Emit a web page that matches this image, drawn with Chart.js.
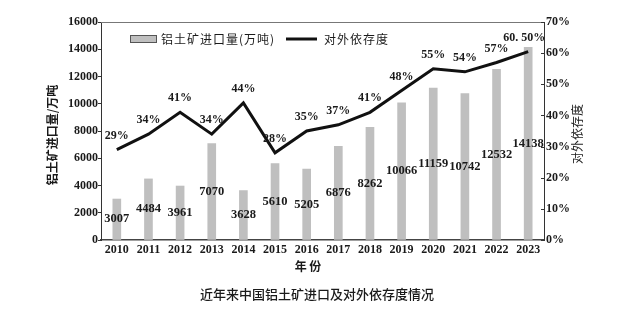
<!DOCTYPE html>
<html><head><meta charset="utf-8">
<script src="https://cdn.jsdelivr.net/npm/chart.js@4/dist/chart.umd.min.js"></script>
<style>html,body{margin:0;padding:0;background:#fff}#wrap{width:620px;height:321px}</style>
</head><body><div id="wrap"><canvas id="c" width="620" height="321"></canvas></div>
<script>
const years = ['2010','2011','2012','2013','2014','2015','2016','2017','2018','2019','2020','2021','2022','2023'];
const importVolume = [3007,4484,3961,7070,3628,5610,5205,6876,8262,10066,11159,10742,12532,14138];
const dependence = [29,34,41,34,44,28,35,37,41,48,55,54,57,60.5];
const dependenceLabels = ['29%','34%','41%','34%','44%','28%','35%','37%','41%','48%','55%','54%','57%','60. 50%'];
const importName = '铝土矿进口量(万吨)';
const dependenceName = '对外依存度';
const leftTitle = '铝土矿进口量/万吨';
const rightTitle = '对外依存度';
const xTitle = '年 份';
const caption = '近年来中国铝土矿进口及对外依存度情况';

const cjk = '"Noto Sans CJK SC", sans-serif';

const drawExtras = {
  id: 'extras',
  afterDatasetsDraw(chart) {
    const ctx = chart.ctx;
    const barMeta = chart.getDatasetMeta(0);
    const lineMeta = chart.getDatasetMeta(1);
    ctx.save();
    ctx.fillStyle = '#1a1a1a';
    ctx.font = 'bold 12.5px "Liberation Serif", "DejaVu Serif", serif';
    ctx.textAlign = 'center';
    ctx.textBaseline = 'middle';
    barMeta.data.forEach((el, i) => {
      ctx.fillText(String(importVolume[i]), el.x, (el.y + el.base) / 2);
    });
    ctx.font = 'bold 12px "Liberation Serif", "DejaVu Serif", serif';
    lineMeta.data.forEach((el, i) => {
      const dx = i === dependence.length - 1 ? -4 : 0;
      ctx.fillText(dependenceLabels[i], el.x + dx, el.y - 14);
    });
    ctx.restore();
  },
  afterDraw(chart) {
    const ctx = chart.ctx;
    const a = chart.chartArea;
    ctx.save();
    ctx.strokeStyle = '#777';
    ctx.lineWidth = 1;
    ctx.beginPath();
    ctx.moveTo(a.left, a.top + 0.5);
    ctx.lineTo(a.right, a.top + 0.5);
    ctx.stroke();
    const y1 = chart.scales.y1;
    ctx.strokeStyle = '#333';
    y1.ticks.forEach(t => {
      const py = Math.round(y1.getPixelForValue(t.value)) + 0.5;
      ctx.beginPath();
      ctx.moveTo(a.right - 3, py);
      ctx.lineTo(a.right, py);
      ctx.stroke();
    });
    const ly = a.top + 17;
    ctx.fillStyle = '#bfbfbf';
    ctx.fillRect(a.left + 29, ly - 3, 26, 6);
    ctx.strokeStyle = '#555';
    ctx.strokeRect(a.left + 29.5, ly - 3.5, 26, 7);
    ctx.fillStyle = '#1a1a1a';
    ctx.font = '12px ' + cjk;
    ctx.textAlign = 'left';
    ctx.textBaseline = 'middle';
    ctx.letterSpacing = '1px';
    ctx.fillText(importName, a.left + 60, ly);
    ctx.strokeStyle = '#111';
    ctx.lineWidth = 3;
    ctx.beginPath();
    ctx.moveTo(a.left + 185, ly);
    ctx.lineTo(a.left + 216, ly);
    ctx.stroke();
    ctx.fillText(dependenceName, a.left + 223, ly);
    ctx.letterSpacing = '0px';
    ctx.save();
    ctx.translate(52, (a.top + a.bottom) / 2 + 4);
    ctx.rotate(-Math.PI / 2);
    ctx.textAlign = 'center';
    ctx.font = 'bold 12px ' + cjk;
    ctx.fillText(leftTitle, 0, 0);
    ctx.restore();
    ctx.save();
    ctx.translate(577, (a.top + a.bottom) / 2 + 3);
    ctx.rotate(-Math.PI / 2);
    ctx.textAlign = 'center';
    ctx.font = '12px ' + cjk;
    ctx.fillText(rightTitle, 0, 0);
    ctx.restore();
    ctx.textAlign = 'center';
    ctx.font = 'bold 12px ' + cjk;
    ctx.fillText(xTitle, 308, a.bottom + 26);
    ctx.font = '500 13px ' + cjk;
    ctx.fillText(caption, 317, a.bottom + 54);
    ctx.restore();
  }
};

new Chart(document.getElementById('c'), {
  data: {
    labels: years,
    datasets: [
      { type: 'bar', label: importName, data: importVolume, yAxisID: 'y',
        backgroundColor: '#bfbfbf', borderWidth: 0, barThickness: 8, order: 1 },
      { type: 'line', label: dependenceName, data: dependence, yAxisID: 'y1',
        borderColor: '#111', borderWidth: 3, pointRadius: 0, tension: 0, fill: false, order: 0 }
    ]
  },
  options: {
    responsive: false,
    animation: false,
    devicePixelRatio: 1,
    layout: { padding: { top: 22, bottom: 0, left: 0, right: 0 } },
    plugins: { legend: { display: false }, tooltip: { enabled: false }, title: { display: false } },
    scales: {
      x: {
        offset: true,
        grid: { display: false, drawTicks: false },
        border: { display: true, color: '#444', width: 1.5 },
        ticks: { font: { family: '"Liberation Serif", serif', size: 12, weight: 'bold' }, color: '#1a1a1a', padding: 3, maxRotation: 0, autoSkip: false },
        afterFit: s => { s.height = 81; }
      },
      y: {
        position: 'left', min: 0, max: 16000,
        ticks: { stepSize: 2000, callback: v => String(v), font: { family: '"Liberation Serif", serif', size: 12, weight: 'bold' }, color: '#1a1a1a', padding: 0 },
        grid: { display: true, drawOnChartArea: false, drawTicks: true, tickLength: 3, color: '#333' },
        border: { display: true, color: '#333', width: 1 },
        afterFit: s => { s.width = 101; }
      },
      y1: {
        position: 'right', min: 0, max: 70,
        ticks: { stepSize: 10, callback: v => v + '%', font: { family: '"Liberation Serif", serif', size: 12, weight: 'bold' }, color: '#1a1a1a', padding: 2 },
        grid: { display: false, drawTicks: false },
        border: { display: true, color: '#333', width: 1 },
        afterFit: s => { s.width = 76; }
      }
    }
  },
  plugins: [drawExtras]
});
</script>
</body></html>
